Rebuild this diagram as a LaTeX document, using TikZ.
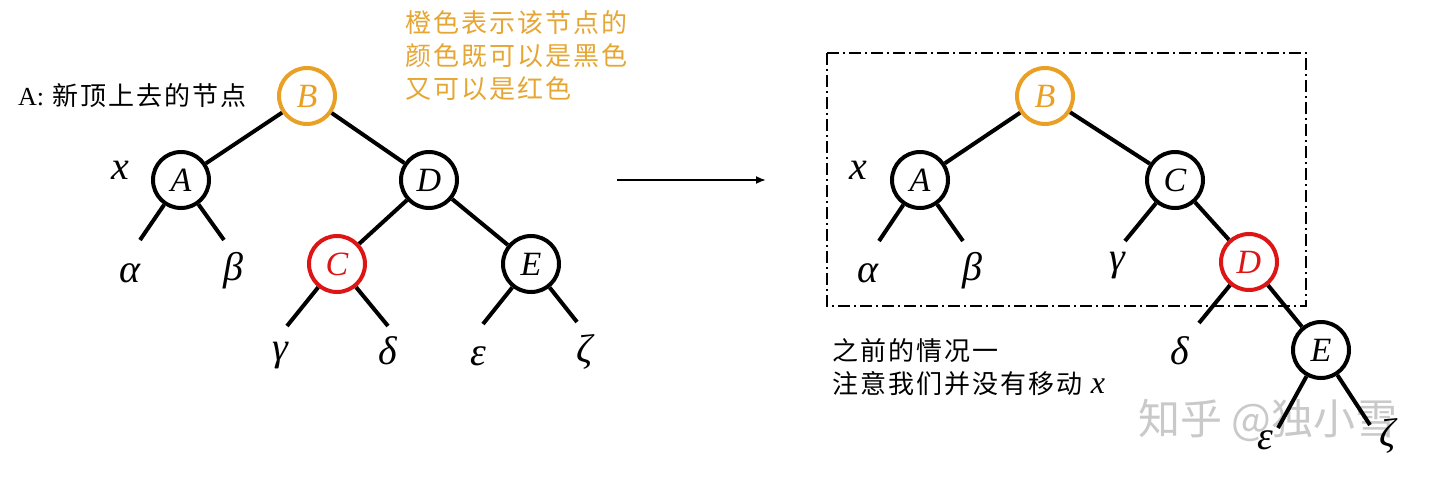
\documentclass[tikz,border=0pt]{standalone}
\usepackage{fontspec}
\setmainfont{Liberation Serif}
\newfontfamily\cjk[LetterSpace=8]{Noto Sans CJK SC}
\newfontfamily\cjkwm{Noto Sans CJK SC}
\usetikzlibrary{arrows.meta}
\definecolor{orng}{HTML}{E9A025}
\definecolor{orngtxt}{HTML}{E6A634}
\definecolor{rd}{HTML}{DD1515}
\definecolor{wm}{HTML}{C9C9C9}
\begin{document}
\begin{tikzpicture}[x=1pt,y=-1pt,
  tn/.style={circle, draw=black, line width=4pt, minimum size=56pt, inner sep=0pt, fill=white,
    font=\fontsize{34}{34}\selectfont\itshape},
  orn/.style={tn, draw=orng, text=orng},
  rdn/.style={tn, draw=rd, text=rd},
  edge/.style={line width=4pt},
  lbl/.style={inner sep=0pt, font=\fontsize{40}{40}\selectfont\itshape},
  cn/.style={inner sep=0pt, align=left, font=\cjk\fontsize{26}{33}\selectfont},
  dashbox/.style={line width=2pt, dash pattern=on 12pt off 4pt on 2pt off 4pt}]
\useasboundingbox (0,0) rectangle (1440,480);

% watermark
\node[inner sep=0pt, text=wm, font=\cjkwm\fontsize{42}{42}\selectfont] (wm) at (1268,420) {知乎 @独小雪};

% ---------- left tree ----------
\node[orn] (B) at (307,96) {B};
\node[tn] (A) at (181,180) {A};
\node[tn] (D) at (429,180) {D};
\node[rdn] (C) at (337,264) {C};
\node[tn] (E) at (531,264) {E};
\coordinate (la1) at (140,240);
\coordinate (la2) at (224,240);
\coordinate (lc1) at (287,326);
\coordinate (lc2) at (388,326);
\coordinate (le1) at (483,324);
\coordinate (le2) at (577,322);
\draw[edge] (B) -- (A);
\draw[edge] (B) -- (D);
\draw[edge] (D) -- (C);
\draw[edge] (D) -- (E);
\draw[edge] (A) -- (la1);
\draw[edge] (A) -- (la2);
\draw[edge] (C) -- (lc1);
\draw[edge] (C) -- (lc2);
\draw[edge] (E) -- (le1);
\draw[edge] (E) -- (le2);
\node[lbl] (lx) at (120,170) {x};
\node[lbl] (lalpha) at (130,273) {α};
\node[lbl] (lbeta) at (233,271) {β};
\node[lbl] (lgamma) at (280,356) {γ};
\node[lbl] (ldelta) at (388,351) {δ};
\node[lbl] (leps) at (478,356) {ε};
\node[lbl] (lzeta) at (585,352) {ζ};

\node[cn, anchor=west] (note1) at (18,96) {{\rmfamily A:} 新顶上去的节点};
\node[cn, anchor=north west, text=orngtxt] (note2) at (405,10) {橙色表示该节点的\\颜色既可以是黑色\\又可以是红色};

% arrow
\coordinate (ar1) at (617,180);
\coordinate (ar2) at (766,180);
\draw[line width=1.8pt, -{Latex[length=10pt,width=8pt]}] (ar1) -- (ar2);

% ---------- right tree ----------
\node[orn] (rB) at (1045,96) {B};
\node[tn] (rA) at (920,180) {A};
\node[tn] (rC) at (1175,180) {C};
\node[rdn] (rD) at (1249,262) {D};
\node[tn] (rE) at (1321,350) {E};
\coordinate (ra1) at (879,241);
\coordinate (ra2) at (963,241);
\coordinate (rc1) at (1125,241);
\coordinate (rd1) at (1199,323);
\coordinate (re1) at (1278,428);
\coordinate (re2) at (1370,425);
\draw[edge] (rB) -- (rA);
\draw[edge] (rB) -- (rC);
\draw[edge] (rC) -- (rD);
\draw[edge] (rD) -- (rE);
\draw[edge] (rA) -- (ra1);
\draw[edge] (rA) -- (ra2);
\draw[edge] (rC) -- (rc1);
\draw[edge] (rD) -- (rd1);
\draw[edge] (rE) -- (re1);
\draw[edge] (rE) -- (re2);
\node[lbl] (rx) at (858,170) {x};
\node[lbl] (ralpha) at (868,273) {α};
\node[lbl] (rbeta) at (972,271) {β};
\node[lbl] (rgamma) at (1117,266) {γ};
\node[lbl] (rdelta) at (1180,351) {δ};
\node[lbl] (reps) at (1265,440) {ε};
\node[lbl] (rzeta) at (1388,436) {ζ};

\coordinate (bx1) at (827,53);
\coordinate (bx2) at (1306,306);
\draw[dashbox] (bx1) rectangle (bx2);

\node[cn, anchor=north west] (note3) at (832,338) {之前的情况一\\注意我们并没有移动 {\rmfamily\itshape\fontsize{32}{33}\selectfont x}};
\end{tikzpicture}
\end{document}
